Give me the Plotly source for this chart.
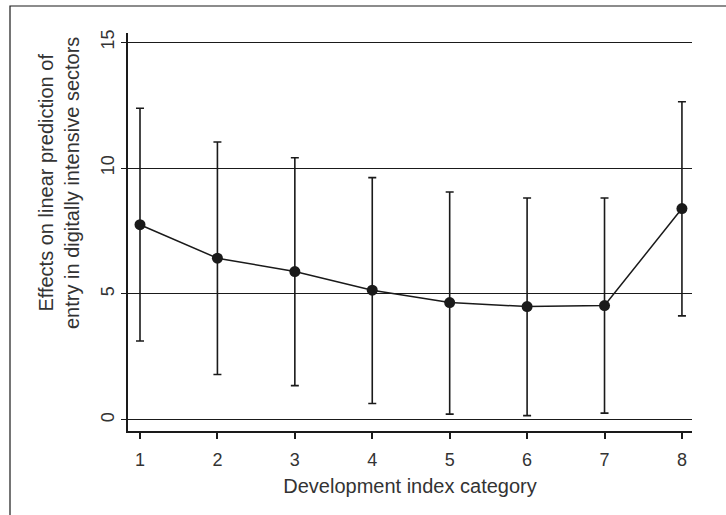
import plotly.graph_objects as go

categories = [1, 2, 3, 4, 5, 6, 7, 8]
estimates = [7.75, 6.42, 5.89, 5.15, 4.66, 4.50, 4.54, 8.39]
upper_ci = [12.37, 11.03, 10.41, 9.62, 9.05, 8.81, 8.81, 12.63]
lower_ci = [3.13, 1.80, 1.36, 0.65, 0.23, 0.17, 0.27, 4.13]
y_ticks = [0, 5, 10, 15]
x_ticks = [1, 2, 3, 4, 5, 6, 7, 8]
y_title = "Effects on linear prediction of<br>entry in digitally intensive sectors"
x_title = "Development index category"

err_plus = [u - e for u, e in zip(upper_ci, estimates)]
err_minus = [e - l for e, l in zip(estimates, lower_ci)]

ink = "#1a1a1a"
txt = "#333333"
FONT = "Liberation Sans, Arial, sans-serif"

fig = go.Figure()
fig.add_trace(go.Scatter(
    x=categories, y=estimates, mode="lines+markers",
    line=dict(color=ink, width=1.5),
    marker=dict(color=ink, size=11),
    error_y=dict(type="data", symmetric=False, array=err_plus, arrayminus=err_minus,
                 color=ink, thickness=1.6, width=4),
    showlegend=False,
))

L, R, T, B = 128, 34, 33, 84
W, H = 726, 515
pw, ph = W - L - R, H - T - B


def px_x(px):
    return (px - L) / pw


def px_y(py):
    return (H - B - py) / ph


fig.update_layout(
    width=W, height=H,
    margin=dict(l=L, r=R, t=T, b=B),
    paper_bgcolor="white", plot_bgcolor="white",
    font=dict(family=FONT, color=txt),
    xaxis=dict(
        range=[0.845, 8.13], tickvals=x_ticks, ticktext=[str(v) for v in x_ticks],
        showgrid=False, zeroline=False, showline=True, linecolor=ink, linewidth=1.5,
        ticks="outside", ticklen=6, tickcolor=ink, tickwidth=1.5,
        tickfont=dict(size=18, color=txt), ticklabelstandoff=6,
        title=dict(text=x_title, font=dict(size=20, color=txt), standoff=10),
    ),
    yaxis=dict(
        range=[-0.44, 15.36], tickvals=y_ticks, ticktext=[str(v) for v in y_ticks],
        showgrid=True, gridcolor=ink, gridwidth=1.2, zeroline=False,
        showline=True, linecolor=ink, linewidth=1.5,
        ticks="outside", ticklen=5, tickcolor=ink, tickwidth=1.2,
        tickangle=-90, tickfont=dict(size=18, color=txt), ticklabelstandoff=0,
    ),
    annotations=[dict(
        text=y_title, textangle=-90, xref="paper", yref="paper",
        x=px_x(59), y=px_y(183), xanchor="center", yanchor="middle",
        showarrow=False, align="center", font=dict(size=20, color=txt, family=FONT),
    )],
    shapes=[dict(
        type="rect", xref="paper", yref="paper",
        x0=px_x(10), x1=px_x(W + 20),
        y0=px_y(H + 20), y1=px_y(6),
        line=dict(color=ink, width=1.2), fillcolor="rgba(0,0,0,0)", layer="below",
    )],
)

fig.write_html("out.html", config={"displayModeBar": False},
               post_script="document.body.style.margin='0';")
